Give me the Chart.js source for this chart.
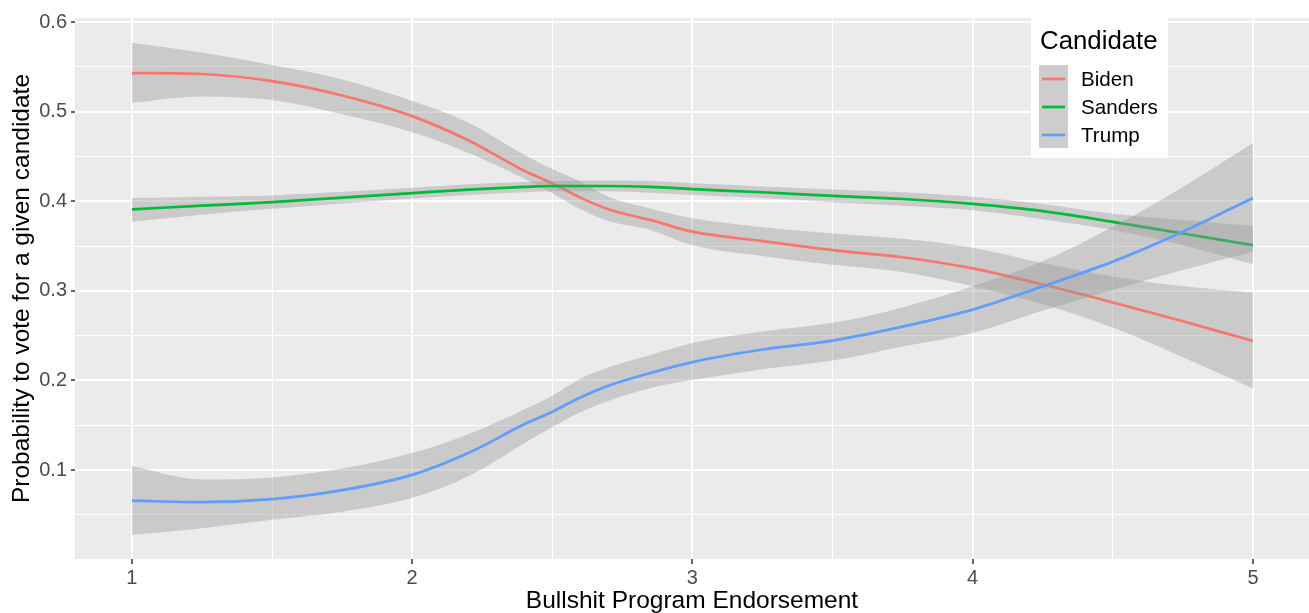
<!DOCTYPE html>
<html>
<head>
<meta charset="utf-8">
<script src="https://cdn.jsdelivr.net/npm/chart.js"></script>
<style>
  html, body { margin: 0; padding: 0; background: #fff; }
  canvas { display: block; }
</style>
</head>
<body>
<canvas id="endorseChart" width="1309" height="613"></canvas>
<script>
const endorsement = [1, 1.25, 1.5, 1.75, 2, 2.2, 2.4, 2.5, 2.6, 2.7, 2.85, 3, 3.25, 3.5, 3.75, 4, 4.25, 4.5, 4.75, 5];

const candidates = ["Biden", "Sanders", "Trump"];

const bidenFit   = [0.543, 0.542, 0.534, 0.518, 0.495, 0.468, 0.434, 0.420, 0.404, 0.391, 0.379, 0.366, 0.3555, 0.3455, 0.3375, 0.325, 0.307, 0.287, 0.266, 0.244];
const bidenUpper = [0.577, 0.566, 0.552, 0.536, 0.512, 0.488, 0.452, 0.436, 0.422, 0.405, 0.392, 0.381, 0.371, 0.364, 0.358, 0.348, 0.331, 0.316, 0.305, 0.298];
const bidenLower = [0.510, 0.517, 0.513, 0.497, 0.477, 0.454, 0.425, 0.409, 0.391, 0.378, 0.368, 0.351, 0.339, 0.329, 0.321, 0.305, 0.285, 0.259, 0.226, 0.191];

const sandersFit   = [0.391, 0.395, 0.399, 0.404, 0.409, 0.413, 0.416, 0.417, 0.417, 0.417, 0.416, 0.4135, 0.410, 0.406, 0.4025, 0.397, 0.389, 0.377, 0.364, 0.351];
const sandersUpper = [0.4035, 0.405, 0.4065, 0.4105, 0.415, 0.419, 0.4215, 0.4225, 0.423, 0.423, 0.4225, 0.420, 0.4165, 0.413, 0.410, 0.405, 0.397, 0.386, 0.379, 0.3726];
const sandersLower = [0.377, 0.385, 0.3915, 0.3975, 0.403, 0.407, 0.410, 0.411, 0.411, 0.411, 0.4095, 0.407, 0.4035, 0.399, 0.395, 0.390, 0.380, 0.368, 0.351, 0.3296];

const trumpFit   = [0.0658, 0.0642, 0.0675, 0.0775, 0.0946, 0.119, 0.151, 0.165, 0.181, 0.194, 0.2083, 0.2205, 0.2345, 0.2445, 0.260, 0.279, 0.305, 0.3326, 0.366, 0.4037];
const trumpUpper = [0.1045, 0.0895, 0.0918, 0.1017, 0.119, 0.140, 0.1675, 0.183, 0.202, 0.2145, 0.2283, 0.2417, 0.2545, 0.2643, 0.2815, 0.305, 0.333, 0.3715, 0.416, 0.465];
const trumpLower = [0.0275, 0.035, 0.0445, 0.0535, 0.069, 0.093, 0.130, 0.148, 0.1645, 0.177, 0.1915, 0.2004, 0.2125, 0.2222, 0.238, 0.253, 0.278, 0.301, 0.3233, 0.3437];

const xTicks = [1, 2, 3, 4, 5];
const xMinorTicks = [1.5, 2.5, 3.5, 4.5];
const yTicks = [0.1, 0.2, 0.3, 0.4, 0.5, 0.6];
const yMinorTicks = [0.05, 0.15, 0.25, 0.35, 0.45, 0.55];

const lineColors = ["#F8766D", "#00BA38", "#619CFF"];
const bandFill = "rgba(153,153,153,0.4)";
const FONT = "'Liberation Sans', Arial, sans-serif";

const pts = (ys) => endorsement.map((x, i) => ({ x: x, y: ys[i] }));

const series = [
  { fit: bidenFit, upper: bidenUpper, lower: bidenLower },
  { fit: sandersFit, upper: sandersUpper, lower: sandersLower },
  { fit: trumpFit, upper: trumpUpper, lower: trumpLower },
];

// ggplot draws ribbon then line per group, later groups on top
const datasets = [];
series.forEach((s, i) => {
  const base = (series.length - i) * 2;
  datasets.push({
    label: candidates[i] + " upper",
    data: pts(s.upper),
    fill: "+1",
    backgroundColor: bandFill,
    borderColor: "transparent",
    borderWidth: 0,
    pointRadius: 0,
    cubicInterpolationMode: "monotone",
    order: base,
  });
  datasets.push({
    label: candidates[i] + " lower",
    data: pts(s.lower),
    fill: false,
    borderColor: "transparent",
    borderWidth: 0,
    pointRadius: 0,
    cubicInterpolationMode: "monotone",
    order: base,
  });
  datasets.push({
    label: candidates[i],
    data: pts(s.fit),
    fill: false,
    borderColor: lineColors[i],
    borderWidth: 2.7,
    pointRadius: 0,
    cubicInterpolationMode: "monotone",
    order: base - 1,
  });
});

const panelBg = {
  id: "panelBg",
  beforeDraw(chart) {
    const { ctx, chartArea: a } = chart;
    ctx.save();
    ctx.fillStyle = "#EBEBEB";
    ctx.fillRect(a.left, a.top, a.right - a.left, a.bottom - a.top);
    ctx.restore();
  },
};

// legend box drawn inside the panel like the ggplot one
const candidateLegend = {
  id: "candidateLegend",
  afterDraw(chart) {
    const ctx = chart.ctx;
    ctx.save();
    ctx.fillStyle = "#FFFFFF";
    ctx.fillRect(1031, 18, 137, 140);
    ctx.fillStyle = "#000000";
    ctx.font = "25.8px " + FONT;
    ctx.textBaseline = "alphabetic";
    ctx.textAlign = "left";
    ctx.fillText("Candidate", 1040, 49);
    ctx.fillStyle = "#CDCDCD";
    ctx.fillRect(1039, 65, 29, 83);
    ctx.font = "20.6px " + FONT;
    ctx.textBaseline = "middle";
    candidates.forEach((name, i) => {
      const y = 79 + i * 28;
      ctx.strokeStyle = lineColors[i];
      ctx.lineWidth = 2.7;
      ctx.beginPath();
      ctx.moveTo(1042, y);
      ctx.lineTo(1065, y);
      ctx.stroke();
      ctx.fillStyle = "#000000";
      ctx.fillText(name, 1081, y + 1);
    });
    ctx.restore();
  },
};

const isMajorX = (v) => xTicks.includes(v);
const isMajorY = (v) => yTicks.some((t) => Math.abs(t - v) < 1e-9);

new Chart(document.getElementById("endorseChart"), {
  type: "line",
  data: { datasets: datasets },
  options: {
    responsive: false,
    animation: false,
    layout: { padding: { top: 18, right: 0, left: 0, bottom: 0 } },
    plugins: {
      legend: { display: false },
      tooltip: { enabled: false },
    },
    scales: {
      x: {
        type: "linear",
        min: 0.797,
        max: 5.2,
        afterBuildTicks: (s) => {
          s.ticks = [...xTicks, ...xMinorTicks].sort((a, b) => a - b).map((v) => ({ value: v }));
        },
        afterFit: (s) => { s.height = 54; },
        ticks: {
          autoSkip: false,
          maxRotation: 0,
          padding: 2,
          color: "#4D4D4D",
          font: { family: FONT, size: 20 },
          callback: (v) => (isMajorX(v) ? String(v) : ""),
        },
        grid: {
          color: "#FFFFFF",
          lineWidth: (c) => (isMajorX(c.tick.value) ? 2 : 1),
          tickColor: (c) => (isMajorX(c.tick.value) ? "#333333" : "rgba(0,0,0,0)"),
          tickWidth: 1.5,
          tickLength: 5,
        },
        border: { display: false },
        title: {
          display: true,
          text: "Bullshit Program Endorsement",
          color: "#000000",
          font: { family: FONT, size: 24.5, lineHeight: 1 },
          padding: { top: 0, bottom: 0 },
        },
      },
      y: {
        type: "linear",
        min: 0.0007,
        max: 0.6045,
        afterBuildTicks: (s) => {
          s.ticks = [...yTicks, ...yMinorTicks].sort((a, b) => a - b).map((v) => ({ value: v }));
        },
        afterFit: (s) => { s.width = 75; },
        ticks: {
          autoSkip: false,
          padding: 4,
          color: "#4D4D4D",
          font: { family: FONT, size: 20 },
          callback: (v) => (isMajorY(v) ? v.toFixed(1) : ""),
        },
        grid: {
          color: "#FFFFFF",
          lineWidth: (c) => (isMajorY(c.tick.value) ? 2 : 1),
          tickColor: (c) => (isMajorY(c.tick.value) ? "#333333" : "rgba(0,0,0,0)"),
          tickWidth: 1.5,
          tickLength: 4,
        },
        border: { display: false },
        title: {
          display: true,
          text: "Probability to vote for a given candidate",
          color: "#000000",
          font: { family: FONT, size: 24.5, lineHeight: 1 },
          padding: { top: 10 },
        },
      },
    },
  },
  plugins: [panelBg, candidateLegend],
});
</script>
</body>
</html>
